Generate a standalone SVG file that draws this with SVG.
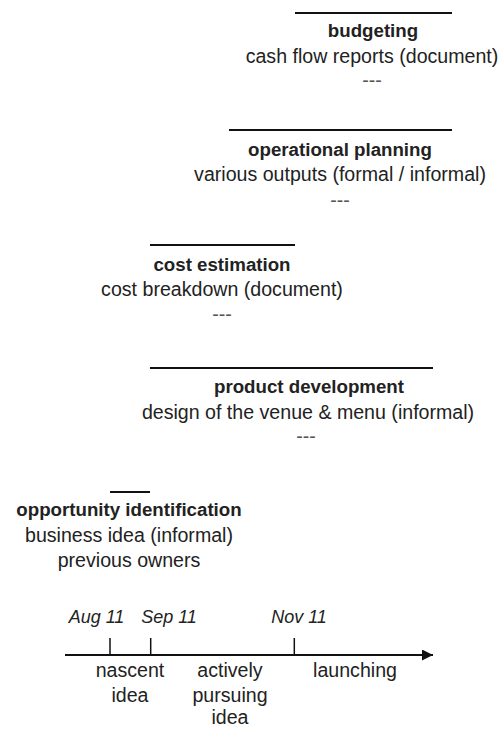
<svg xmlns="http://www.w3.org/2000/svg" width="500" height="729" viewBox="0 0 500 729">
  <style>
    text { font-family: "Liberation Sans", Arial, sans-serif; fill: #222; text-anchor: middle; }
    .t { font-weight: bold; font-size: 18.7px; }
    .d { font-size: 19.6px; }
    .dash { font-size: 19.6px; fill: #555; }
    .date { font-style: italic; font-size: 18px; }
    .bar { stroke: #111; stroke-width: 2; fill: none; }
    .tick { stroke: #111; stroke-width: 1.5; }
  </style>
  <defs>
    <marker id="arrow" viewBox="0 0 10 10" refX="10" refY="5" markerWidth="18" markerHeight="11" markerUnits="userSpaceOnUse" orient="auto">
      <path d="M0,0 L10,5 L0,10 Z" fill="#111"/>
    </marker>
  </defs>
  <rect width="500" height="729" fill="#fff"/>

  <g id="budgeting">
    <line class="bar" x1="295" y1="13" x2="452" y2="13"/>
    <text class="t" x="373" y="37">budgeting</text>
    <text class="d" x="372" y="63">cash flow reports (document)</text>
    <text class="dash" x="372" y="87">---</text>
  </g>

  <g id="operational-planning">
    <line class="bar" x1="229" y1="130" x2="452" y2="130"/>
    <text class="t" x="340" y="155.5">operational planning</text>
    <text class="d" x="340" y="180.5">various outputs (formal / informal)</text>
    <text class="dash" x="340" y="207">---</text>
  </g>

  <g id="cost-estimation">
    <line class="bar" x1="150" y1="245" x2="295" y2="245"/>
    <text class="t" x="222" y="270.5">cost estimation</text>
    <text class="d" x="222" y="295.5">cost breakdown (document)</text>
    <text class="dash" x="222" y="321">---</text>
  </g>

  <g id="product-development">
    <line class="bar" x1="150" y1="368" x2="433" y2="368"/>
    <text class="t" x="309" y="392.5">product development</text>
    <text class="d" x="308" y="419">design of the venue &amp; menu (informal)</text>
    <text class="dash" x="306" y="443">---</text>
  </g>

  <g id="opportunity-identification">
    <line class="bar" x1="110" y1="492" x2="150" y2="492"/>
    <text class="t" x="129" y="516">opportunity identification</text>
    <text class="d" x="129" y="542">business idea (informal)</text>
    <text class="d" x="129" y="567">previous owners</text>
  </g>

  <g id="connectors">
    <line class="bar" x1="65" y1="655" x2="433" y2="655" marker-end="url(#arrow)"/>
    <line class="tick" x1="110" y1="638" x2="110" y2="655"/>
    <line class="tick" x1="150.7" y1="638" x2="150.7" y2="655"/>
    <line class="tick" x1="294.3" y1="638" x2="294.3" y2="655"/>
  </g>

  <g id="timeline-labels">
    <text class="date" x="96.5" y="623">Aug 11</text>
    <text class="date" x="169" y="623">Sep 11</text>
    <text class="date" x="299" y="623">Nov 11</text>
    <text class="d" x="130" y="677">nascent</text>
    <text class="d" x="130" y="701.5">idea</text>
    <text class="d" x="230" y="677">actively</text>
    <text class="d" x="230" y="701.5">pursuing</text>
    <text class="d" x="230" y="724">idea</text>
    <text class="d" x="355" y="677">launching</text>
  </g>
</svg>
